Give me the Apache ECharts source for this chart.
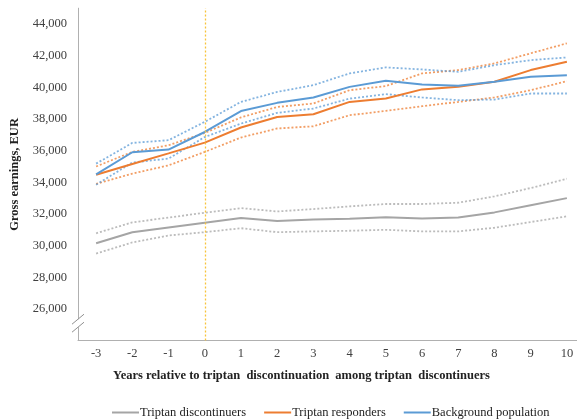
<!DOCTYPE html>
<html>
<head>
<meta charset="utf-8">
<script src="https://cdn.jsdelivr.net/npm/echarts@6/dist/echarts.min.js"></script>
<style>
  html, body { margin: 0; padding: 0; background: #fff; }
  #chart { width: 577px; height: 419px; }
</style>
</head>
<body>
<div id="chart"></div>
<script>
// Years relative to triptan discontinuation
const years = ['-3', '-2', '-1', '0', '1', '2', '3', '4', '5', '6', '7', '8', '9', '10'];

// Gross earnings (EUR), point estimates and 95% CI bounds
const discontinuers      = [30150, 30850, 31150, 31450, 31750, 31550, 31650, 31700, 31800, 31720, 31770, 32100, 32550, 33000];
const discontinuersUpper = [30780, 31470, 31770, 32080, 32370, 32160, 32310, 32480, 32630, 32630, 32710, 33110, 33640, 34230];
const discontinuersLower = [29500, 30200, 30640, 30850, 31100, 30850, 30900, 30940, 31000, 30900, 30900, 31130, 31490, 31850];

const responders      = [34480, 35160, 35830, 36510, 37460, 38130, 38300, 39080, 39290, 39870, 40030, 40350, 41090, 41620];
const respondersUpper = [35000, 35920, 36340, 37120, 38100, 38760, 38980, 39820, 40080, 40880, 41090, 41510, 42150, 42780];
const respondersLower = [33900, 34550, 35070, 35920, 36830, 37400, 37540, 38240, 38510, 38810, 39080, 39360, 39820, 40390];

const background      = [34500, 35900, 36070, 37180, 38500, 39020, 39360, 40030, 40410, 40180, 40100, 40350, 40670, 40770];
const backgroundUpper = [35180, 36490, 36660, 37820, 39080, 39710, 40140, 40880, 41260, 41130, 40980, 41400, 41720, 41890];
const backgroundLower = [33850, 35250, 35500, 36860, 37710, 38390, 38660, 39290, 39570, 39360, 39190, 39230, 39610, 39610];

const yTicks = [26000, 28000, 30000, 32000, 34000, 36000, 38000, 40000, 42000, 44000];

const GRAY = '#a5a5a5', ORANGE = '#ed7d31', BLUE = '#5b9bd5';
const SERIF = '"Liberation Serif", "Times New Roman", serif';
const X_TITLE = 'Years relative to triptan  discontinuation  among triptan  discontinuers';

function mainLine(name, data, color, extra) {
  return Object.assign({
    name, type: 'line', data, symbol: 'none', z: 3,
    lineStyle: { color, width: 2 }, itemStyle: { color }
  }, extra || {});
}
function ciLine(name, data, color) {
  return {
    name, type: 'line', data, symbol: 'none', z: 2,
    lineStyle: { color, width: 1.8, type: [2, 2], opacity: 0.75 },
    itemStyle: { color }
  };
}

const chart = echarts.init(document.getElementById('chart'), null, { renderer: 'canvas' });

chart.setOption({
  animation: false,
  backgroundColor: '#fff',
  grid: { left: 78, right: -8, top: 8.2, bottom: 78.4, containLabel: false, outerBoundsMode: 'none' },
  xAxis: {
    type: 'category',
    data: years,
    boundaryGap: true,
    axisLine: { lineStyle: { color: '#b0b0b0', width: 1 } },
    axisTick: { show: false },
    axisLabel: { color: '#404040', fontFamily: SERIF, fontSize: 12.5, margin: 7, interval: 0 }
  },
  yAxis: {
    type: 'value',
    min: 24000, max: 45000, interval: 2000,
    name: 'Gross earnings, EUR',
    nameLocation: 'middle',
    nameGap: 56,
    nameTextStyle: { color: '#222', fontFamily: SERIF, fontSize: 12.5, fontWeight: 'bold' },
    splitLine: { show: false },
    axisTick: { show: false },
    axisLine: { show: true, lineStyle: { color: '#b0b0b0', width: 1 } },
    axisLabel: {
      color: '#404040', fontFamily: SERIF, fontSize: 12.5, margin: 11,
      formatter: v => yTicks.indexOf(v) >= 0 ? v.toLocaleString('en-US') : ''
    }
  },
  legend: {
    show: true,
    data: [
      { name: 'Triptan discontinuers', icon: 'rect' },
      { name: 'Triptan responders', icon: 'rect' },
      { name: 'Background population', icon: 'rect' }
    ],
    left: 107, top: 401,
    itemWidth: 27, itemHeight: 2, itemGap: 18,
    textStyle: { color: '#222', fontFamily: SERIF, fontSize: 12.5, padding: [0, 0, 0, -4] }
  },
  series: [
    ciLine('disc-upper', discontinuersUpper, GRAY),
    ciLine('disc-lower', discontinuersLower, GRAY),
    ciLine('resp-upper', respondersUpper, ORANGE),
    ciLine('resp-lower', respondersLower, ORANGE),
    ciLine('bg-upper', backgroundUpper, BLUE),
    ciLine('bg-lower', backgroundLower, BLUE),
    mainLine('Triptan discontinuers', discontinuers, GRAY, {
      markLine: {
        silent: true, symbol: 'none', label: { show: false },
        lineStyle: { color: '#f7c43c', type: [2, 2], width: 1.3, opacity: 1 },
        data: [{ xAxis: '0' }]
      }
    }),
    mainLine('Triptan responders', responders, ORANGE),
    mainLine('Background population', background, BLUE)
  ]
});

// Axis break marks on the y axis between the origin and the first labelled tick
const yBreak = chart.convertToPixel({ yAxisIndex: 0 }, 25100);
const xAxisPix = chart.convertToPixel({ xAxisIndex: 0 }, '-3') - chart.getModel().getComponent('xAxis', 0).axis.getBandWidth() / 2;
chart.setOption({
  graphic: [
    {
      type: 'text',
      left: 113, top: 369,
      style: { text: X_TITLE, fill: '#222', font: 'bold 12.5px ' + SERIF }
    },
    { type: 'rect', shape: { x: xAxisPix - 2, y: yBreak - 4, width: 4, height: 8 }, style: { fill: '#fff' }, z: 10 },
    { type: 'line', shape: { x1: xAxisPix - 6, y1: yBreak + 1, x2: xAxisPix + 6, y2: yBreak - 9 }, style: { stroke: '#909090', lineWidth: 1 }, z: 11 },
    { type: 'line', shape: { x1: xAxisPix - 6, y1: yBreak + 9, x2: xAxisPix + 6, y2: yBreak - 1 }, style: { stroke: '#909090', lineWidth: 1 }, z: 11 }
  ]
});
</script>
</body>
</html>
